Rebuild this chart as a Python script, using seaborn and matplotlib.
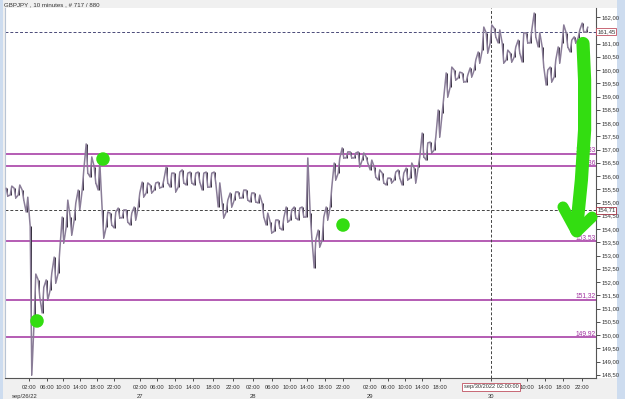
import numpy as np
import pandas as pd
import matplotlib
matplotlib.use("Agg")
import matplotlib.pyplot as plt
import seaborn as sns
from matplotlib.patches import Rectangle

# ---------------- data ----------------
title = "GBPJPY , 10 minutes , # 717 / 880"

bar_high = [155.54, 155.62, 155.54, 155.66, 155.47, 155.20, 154.10, 152.30, 152.08, 151.80,
            152.08, 152.34, 152.94, 153.21, 154.45, 155.09, 154.45, 154.98, 155.47, 156.23,
            157.21, 156.72, 156.34, 156.50, 154.72, 154.64, 154.60, 154.64, 154.79, 154.72,
            154.72, 154.60, 154.83, 155.36, 155.77, 155.74, 155.66, 155.74, 155.77, 155.85,
            156.34, 156.11, 156.11, 156.15, 156.23, 156.11, 156.15, 156.11, 156.15, 156.11,
            156.15, 156.11, 156.15, 155.74, 154.98, 155.09, 155.36, 155.40, 155.40, 155.47,
            155.47, 155.36, 155.36, 155.28, 154.98, 154.60, 154.26, 154.34, 154.34, 154.42,
            154.83, 154.72, 154.83, 154.79, 154.83, 156.68, 154.60, 153.58, 153.96, 154.45,
            154.83, 155.58, 156.49, 156.68, 157.06, 156.91, 156.91, 156.87, 156.91, 156.87,
            156.72, 156.60, 156.34, 156.23, 156.11, 155.92, 155.92, 156.15, 156.23, 156.11,
            156.30, 156.49, 156.30, 156.72, 157.62, 157.25, 157.28, 157.47, 158.49, 158.98,
            159.89, 160.11, 160.00, 159.92, 159.89, 159.81, 160.08, 160.38, 160.68, 161.62,
            161.40, 161.70, 161.58, 161.51, 161.02, 160.75, 160.64, 160.87, 161.13, 161.40,
            161.40, 161.51, 162.15, 161.40, 160.87, 160.00, 160.11, 160.38, 160.87, 161.70,
            161.40, 161.13, 161.25, 161.51, 161.77, 161.62]
bar_low = [155.24, 155.28, 155.17, 155.28, 155.09, 154.64, 148.49, 150.60, 151.43, 150.83,
           151.32, 151.70, 151.96, 152.34, 153.47, 154.08, 153.77, 154.34, 154.72, 155.47,
           156.11, 155.96, 155.74, 155.47, 153.66, 154.08, 154.15, 154.04, 154.42, 154.42,
           154.26, 154.15, 154.34, 154.83, 155.21, 155.36, 155.36, 155.47, 155.55, 155.58,
           155.74, 155.58, 155.40, 155.58, 155.74, 155.66, 155.74, 155.66, 155.77, 155.47,
           155.58, 155.58, 155.74, 154.83, 154.42, 154.64, 154.83, 155.09, 155.17, 155.17,
           155.09, 155.02, 155.02, 154.98, 154.45, 154.15, 153.85, 153.91, 154.04, 153.96,
           154.26, 154.34, 154.42, 154.34, 154.45, 154.45, 153.70, 152.53, 153.32, 153.58,
           154.34, 154.83, 155.85, 156.11, 156.68, 156.68, 156.68, 156.68, 156.34, 156.60,
           156.49, 156.23, 155.96, 155.85, 155.74, 155.66, 155.74, 155.85, 155.92, 155.66,
           155.85, 155.92, 155.74, 156.34, 156.72, 156.60, 156.87, 156.98, 157.47, 158.38,
           158.98, 159.36, 159.62, 159.70, 159.55, 159.55, 159.74, 160.00, 160.26, 160.75,
           160.64, 161.02, 161.25, 161.02, 160.26, 160.38, 160.30, 160.49, 160.64, 160.30,
           161.02, 161.02, 161.25, 160.87, 160.11, 159.43, 159.55, 159.74, 160.26, 161.02,
           160.87, 160.68, 161.02, 161.21, 161.43, 161.43]

levels = [156.83, 156.36, 153.53, 151.32, 149.92]
marked_levels = [161.45, 154.71]

tick_slots = [5.5, 10, 14, 18.25, 22.5, 26.75,
              33.25, 37.5, 42, 46.5, 51.5, 56.5,
              61.5, 66.25, 70.75, 75, 79.5, 84,
              90.75, 95.25, 99.5, 103.75, 108.25,
              121, 130, 134.5, 139, 143.75]
tick_labels = ["02:00", "06:00", "10:00", "14:00", "18:00", "22:00",
               "02:00", "06:00", "10:00", "14:00", "18:00", "22:00",
               "02:00", "06:00", "10:00", "14:00", "18:00", "22:00",
               "02:00", "06:00", "10:00", "14:00", "18:00",
               "", "10:00", "14:00", "18:00", "22:00"]
day_slots = [4.5, 33.25, 61.5, 90.75, 121]
day_labels = ["sep/26/22", "27", "28", "29", "30"]
cursor_slot = 121
cursor_label = "sep/30/2022 02:00:00"

dot_slots = [7.5, 24, 84]
dot_prices = [150.53, 156.64, 154.15]

arrow_slots = [144, 144.4, 144.4, 143.6, 142.8, 142.4]
arrow_prices = [161.0, 159.62, 157.74, 155.85, 154.64, 153.96]
arrowhead_slots = [139, 142.4, 146.25]
arrowhead_prices = [154.83, 153.89, 154.45]

# ---------------- build ----------------
n = len(bar_high)
xs, ys = [], []
for i in range(n):
    a, b = (bar_high[i], bar_low[i]) if i % 2 == 0 else (bar_low[i], bar_high[i])
    xs += [i - 0.2, i + 0.2]
    ys += [a, b]
df = pd.DataFrame({"slot": xs, "price": ys})

sns.set_theme(style="white")
plt.rcParams['font.family'] = ['Liberation Sans', 'DejaVu Sans']

fig = plt.figure(figsize=(6.25, 3.99), dpi=100)
fig.patch.set_facecolor("#f0f0f0")
W, H = 625, 399
fig.add_artist(Rectangle((596 / W, (H - 378) / H), 21 / W, 370 / H,
                         transform=fig.transFigure, facecolor="white", edgecolor="none", zorder=0))
fig.add_artist(Rectangle((617 / W, 0), 8 / W, 1, transform=fig.transFigure,
                         facecolor="#cddcef", edgecolor="none", zorder=0))
fig.add_artist(Rectangle((0, 0), 3 / W, 1, transform=fig.transFigure,
                         facecolor="#cddcef", edgecolor="none", zorder=0))

ax = fig.add_axes([5 / W, (H - 378) / H, 591 / W, 370 / H])
ax.set_facecolor("white")

ylo = 162 - 361 / 26.5
yhi = 162 + 9 / 26.5
ax.set_ylim(ylo, yhi)
ax.set_xlim(-0.5, 147.25)

for lv in levels:
    ax.axhline(lv, color="#a0309f", lw=1.1, zorder=2)
    ax.text(147.2, lv + 0.02, f"{lv:.2f}".replace(".", ","), color="#a0309f",
            fontsize=4.8, ha="right", va="bottom", zorder=3)
ax.axhline(marked_levels[0], color="#4a4a78", lw=0.7, ls=(0, (3, 2)), zorder=2)
ax.axhline(marked_levels[1], color="#444444", lw=0.7, ls=(0, (3, 2)), zorder=2)
ax.axvline(cursor_slot, color="#444444", lw=0.7, ls=(0, (3, 2)), zorder=2)

ax.vlines(range(n), bar_low, bar_high, color="#2e2836", lw=0.7, zorder=3)
sns.lineplot(data=df, x="slot", y="price", sort=False, estimator=None,
             color="#8a7d98", lw=1.1, ax=ax, zorder=4)

sns.scatterplot(x=dot_slots, y=dot_prices, s=95, color="#33dd11", edgecolor="none",
                ax=ax, zorder=6)
ax.plot(arrow_slots, arrow_prices, color="#33dd11", lw=9.5, solid_capstyle="round",
        solid_joinstyle="round", zorder=7, clip_on=False)
ax.plot(arrowhead_slots, arrowhead_prices, color="#33dd11", lw=8, solid_capstyle="round",
        solid_joinstyle="round", zorder=7, clip_on=False)

ax.yaxis.tick_right()
yt = np.arange(148.5, 162.01, 0.5)
ax.set_yticks(yt)
ax.set_yticklabels(["" if abs(v - 161.5) < 1e-6 else f"{v:.2f}".replace(".", ",") for v in yt])
ax.set_xticks(tick_slots)
ax.set_xticklabels(tick_labels)
ax.tick_params(axis="y", which="both", right=True, length=3, width=0.6, pad=1,
               labelsize=4.2, colors="#333333")
ax.tick_params(axis="x", which="both", bottom=True, length=2, width=0.6, pad=3,
               labelsize=4.2, colors="#333333")
for s_, lab in zip(day_slots, day_labels):
    ax.text(s_, -0.05, lab, transform=ax.get_xaxis_transform(), fontsize=4.2,
            color="#333333", ha="center", va="center", clip_on=False)
ax.set_xlabel("")
ax.set_ylabel("")
ax.grid(False)
ax.spines["top"].set_visible(False)
ax.spines["left"].set_color("#b8c4d4")
ax.spines["bottom"].set_color("#555555")
ax.spines["right"].set_color("#555555")
for s in ["left", "bottom", "right"]:
    ax.spines[s].set_linewidth(0.8)

ax.text(147.55, marked_levels[0], f"{marked_levels[0]:.2f}".replace(".", ","), fontsize=4.3,
        color="#333333", ha="left", va="center", zorder=9, clip_on=False,
        bbox=dict(boxstyle="square,pad=0.15", fc="white", ec="#c05060", lw=0.6))
ax.text(147.55, marked_levels[1], f"{marked_levels[1]:.2f}".replace(".", ","), fontsize=4.3,
        color="#333333", ha="left", va="center", zorder=9, clip_on=False,
        bbox=dict(boxstyle="square,pad=0.15", fc="white", ec="#a03040", lw=0.6))
ax.text(cursor_slot, -0.024, cursor_label, transform=ax.get_xaxis_transform(), fontsize=4.1,
        color="#333333", ha="center", va="center", zorder=9, clip_on=False,
        bbox=dict(boxstyle="square,pad=0.2", fc="white", ec="#c05060", lw=0.6))

fig.text(4 / W, 1 - 5 / H, title, fontsize=4.4, color="#333333", ha="left", va="center")

fig.savefig("out.png", dpi=100, facecolor=fig.get_facecolor())
